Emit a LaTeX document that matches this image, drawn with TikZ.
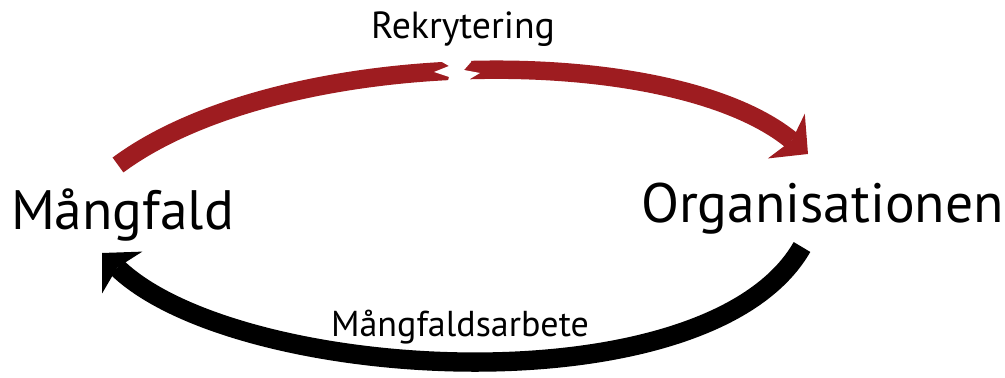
\documentclass[tikz,border=0pt]{standalone}
\usepackage{fontspec}
\setmainfont{PT Sans}
\usetikzlibrary{arrows.meta}
\definecolor{arrowred}{RGB}{158,28,32}
\tikzset{
    flow/.style={line width=10.5pt, -{Stealth[length=16pt,width=33pt,inset=4pt,line width=0pt]}},
    bigname/.style={anchor=base, inner sep=0pt, font=\fontsize{31.6}{38}\selectfont},
    flowlabel/.style={anchor=base, inner sep=0pt, font=\fontsize{20.5}{25}\selectfont}
}
\begin{document}
\begin{tikzpicture}[x=0.02cm, y=-0.02cm]
    \useasboundingbox (0,0) rectangle (1005,378);
    \node[bigname] (diversity) at (122.5,230) {Mångfald};
    \node[bigname] (organisation) at (822.5,223) {Organisationen};
    \node[flowlabel, font=\fontsize{21.5}{26}\selectfont] (recruitment) at (463,39) {Rekrytering};
    \node[flowlabel] (diversitywork) at (460,337) {Mångfaldsarbete};
    \coordinate (redstart) at (118,165);
    \coordinate (redend) at (808,154);
    \coordinate (blackstart) at (802,247);
    \coordinate (blackend) at (102,253);
    \draw[flow, color=arrowred] (redstart) .. controls (280,45) and (670,40) .. (redend);
    \fill[white] (442,50) -- (442,62) -- (449,66) -- (434,72) -- (449,77) -- (445,92)
        -- (472,92) -- (470,79) -- (480,73) -- (464,70) -- (471,62) -- (471,50) -- cycle;
    \draw[flow, color=black, line width=11pt] (blackstart) .. controls (708,411) and (237,383) .. (blackend);
\end{tikzpicture}
\end{document}
